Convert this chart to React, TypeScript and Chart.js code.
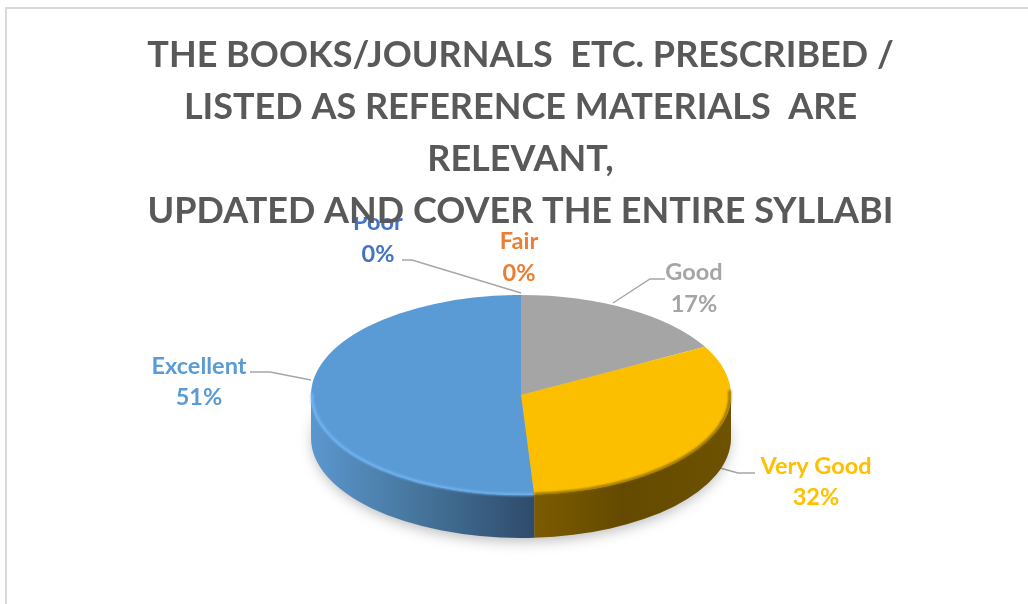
import React, { useEffect, useRef } from "react";
import { Chart, registerables } from "chart.js";

Chart.register(...registerables);

const categories = ["Poor", "Fair", "Good", "Very Good", "Excellent"];
const percentValues = [0, 0, 17, 32, 51];
const titleLines = [
  "THE BOOKS/JOURNALS  ETC. PRESCRIBED /",
  "LISTED AS REFERENCE MATERIALS  ARE",
  "RELEVANT,",
  "UPDATED AND COVER THE ENTIRE SYLLABI",
];
const topColors = ["#4472c4", "#ed7d31", "#a5a5a5", "#fcbf00", "#5b9bd5"];
const textColors = ["#4472c4", "#ed7d31", "#a5a5a5", "#ffc000", "#5b9bd5"];

const W = 1028;
const H = 604;
const FONT = "Lato, 'Open Sans', sans-serif";
const PIE = { cx: 521, cy: 395, radius: 210, squash: 0.476, depth: 43 };

// Label placement: [centre x, first-line y, second-line y]
const labelPlacement = [
  [378, 222, 254],
  [519, 241, 273],
  [694, 272, 304],
  [816, 466, 497],
  [199, 366, 397],
];
const leaders = [
  [[402, 260], [412, 260], [521, 293]],
  null,
  [[665, 279], [650, 279], [613, 303]],
  [[720, 468], [738, 473], [755, 473]],
  [[250, 372], [270, 372], [311, 380]],
];
const sideStops: Record<number, [string, string, string]> = {
  3: ["#7c5c00", "#644a00", "#6d5200"],
  4: ["#5b97cf", "#47779f", "#2f4b6b"],
};
const rimColors: Record<number, string> = { 3: "#8a6800", 4: "#72b6f5" };

function arcsOf(chart: any) {
  return chart.getDatasetMeta(0).data as any[];
}

const pie3d = {
  id: "pie3d",
  beforeDraw(chart: any) {
    const ctx = chart.ctx as CanvasRenderingContext2D;
    ctx.save();
    ctx.fillStyle = "#ffffff";
    ctx.fillRect(0, 0, W, H);
    ctx.strokeStyle = "#d9d9d9";
    ctx.lineWidth = 2;
    ctx.beginPath();
    ctx.moveTo(6, H);
    ctx.lineTo(6, 8);
    ctx.lineTo(W, 8);
    ctx.stroke();

    categories.forEach((name, i) => {
      const [x, y1, y2] = labelPlacement[i];
      const line = leaders[i];
      if (line) {
        ctx.strokeStyle = "#a6a6a6";
        ctx.lineWidth = 1.4;
        ctx.beginPath();
        line.forEach(([px, py], j) => (j ? ctx.lineTo(px, py) : ctx.moveTo(px, py)));
        ctx.stroke();
      }
      ctx.save();
      if (i === 0) {
        ctx.beginPath();
        ctx.rect(0, 217, W, H);
        ctx.clip();
      }
      ctx.fillStyle = textColors[i];
      ctx.font = `bold 23.5px ${FONT}`;
      ctx.textAlign = "center";
      ctx.textBaseline = "middle";
      ctx.fillText(name, x, y1);
      ctx.fillText(`${percentValues[i]}%`, x, y2);
      ctx.restore();
    });
    ctx.restore();
  },
  beforeDatasetDraw(chart: any) {
    const ctx = chart.ctx as CanvasRenderingContext2D;
    const { cx, cy, squash, depth } = PIE;
    const arcs = arcsOf(chart);
    const r = arcs[0].outerRadius;
    const ry = r * squash;

    ctx.save();
    ctx.filter = "blur(7px)";
    ctx.fillStyle = "rgba(0,0,0,0.28)";
    ctx.beginPath();
    ctx.ellipse(cx, cy + depth + 3, r - 2, ry, 0, 0, Math.PI * 2);
    ctx.fill();
    ctx.restore();

    arcs.forEach((arc, i) => {
      const stops = sideStops[i];
      if (!stops) return;
      const a0 = Math.max(arc.startAngle, 0);
      const a1 = Math.min(arc.endAngle, Math.PI);
      if (a1 <= a0) return;
      const x0 = cx + r * Math.cos(a0);
      const x1 = cx + r * Math.cos(a1);
      const grad = ctx.createLinearGradient(Math.min(x0, x1), 0, Math.max(x0, x1), 0);
      grad.addColorStop(0, stops[0]);
      grad.addColorStop(0.45, stops[1]);
      grad.addColorStop(1, stops[2]);
      ctx.fillStyle = grad;
      ctx.beginPath();
      ctx.ellipse(cx, cy, r, ry, 0, a0, a1);
      ctx.ellipse(cx, cy + depth, r, ry, 0, a1, a0, true);
      ctx.closePath();
      ctx.fill();
    });

    ctx.save();
    ctx.translate(cx, cy);
    ctx.scale(1, squash);
    ctx.translate(-arcs[0].x, -arcs[0].y);
  },
  afterDatasetDraw(chart: any) {
    const ctx = chart.ctx as CanvasRenderingContext2D;
    ctx.restore();
    const { cx, cy, squash } = PIE;
    const arcs = arcsOf(chart);
    arcs.forEach((arc, i) => {
      const colour = rimColors[i];
      if (!colour || arc.endAngle <= arc.startAngle) return;
      const r = arc.outerRadius - 1;
      const a0 = Math.max(arc.startAngle, -0.05);
      const a1 = Math.min(arc.endAngle, Math.PI + 0.02);
      ctx.save();
      ctx.filter = "blur(1px)";
      ctx.strokeStyle = colour;
      ctx.lineWidth = 2.5;
      ctx.beginPath();
      ctx.ellipse(cx, cy, r, r * squash, 0, a0, a1);
      ctx.stroke();
      ctx.restore();
    });
  },
};

export default function App() {
  const ref = useRef<HTMLCanvasElement>(null);
  useEffect(() => {
    const chart = new Chart(ref.current as HTMLCanvasElement, {
      type: "pie",
      data: {
        labels: categories,
        datasets: [
          {
            data: percentValues,
            backgroundColor: topColors,
            borderWidth: 0,
            radius: PIE.radius,
            clip: false,
          } as any,
        ],
      },
      options: {
        responsive: false,
        animation: false,
        rotation: 0,
        layout: { padding: { left: 13 } },
        plugins: {
          legend: { display: false },
          tooltip: { enabled: false },
          title: {
            display: true,
            text: titleLines,
            color: "#595959",
            font: { family: FONT, size: 36, weight: "bold", lineHeight: 1.444 },
            padding: { top: 29, bottom: -237 },
          },
        },
      },
      plugins: [pie3d],
    } as any);
    return () => chart.destroy();
  }, []);
  return (
    <div style={{ position: "fixed", left: 0, top: 0, width: W, height: H }}>
      <canvas ref={ref} width={W} height={H} style={{ display: "block" }} />
    </div>
  );
}
